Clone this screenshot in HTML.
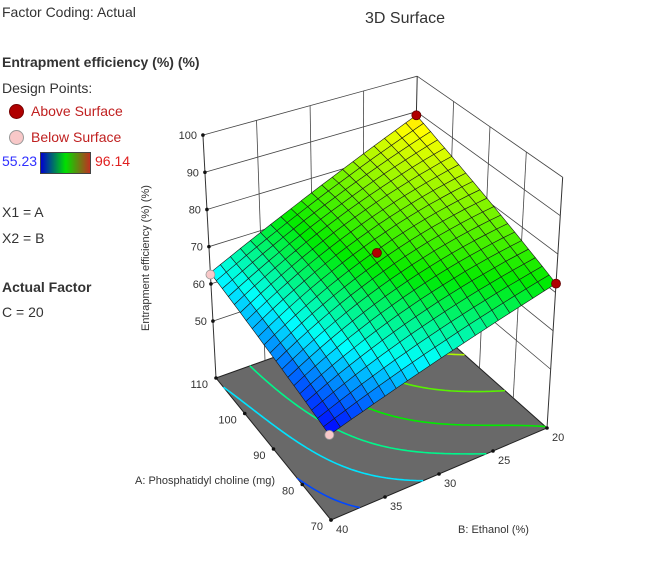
<!DOCTYPE html>
<html><head><meta charset="utf-8"><style>
body{margin:0;background:#fff;width:670px;height:570px;overflow:hidden;font-family:"Liberation Sans","DejaVu Sans",sans-serif;color:#333}
.t{position:absolute;white-space:nowrap}
</style></head><body>
<div class="t" style="left:2px;top:4px;font-size:14px">Factor Coding: Actual</div>
<div class="t" style="left:2px;top:54px;font-size:14px;font-weight:bold">Entrapment efficiency (%) (%)</div>
<div class="t" style="left:2px;top:80px;font-size:14px">Design Points:</div>
<div style="position:absolute;left:9px;top:104px;width:13px;height:13px;border-radius:50%;background:#b00000;border:1px solid #700"></div>
<div class="t" style="left:31px;top:103px;font-size:14px;color:#c02020">Above Surface</div>
<div style="position:absolute;left:9px;top:130px;width:13px;height:13px;border-radius:50%;background:#f8c8c8;border:1px solid #999"></div>
<div class="t" style="left:31px;top:129px;font-size:14px;color:#c02020">Below Surface</div>
<div class="t" style="left:2px;top:153px;font-size:14px;color:#3030ff">55.23</div>
<div style="position:absolute;left:40px;top:152px;width:49px;height:20px;border:1px solid #444;background:linear-gradient(to right,#0000d0,#00e000,#c03020)"></div>
<div class="t" style="left:95px;top:153px;font-size:14px;color:#e02020">96.14</div>
<div class="t" style="left:2px;top:204px;font-size:14px">X1 = A</div>
<div class="t" style="left:2px;top:230px;font-size:14px">X2 = B</div>
<div class="t" style="left:2px;top:279px;font-size:14px;font-weight:bold">Actual Factor</div>
<div class="t" style="left:2px;top:304px;font-size:14px">C = 20</div>
<div class="t" style="left:365px;top:10px;font-size:16px">3D Surface</div>
<svg id="c" width="670" height="570" style="position:absolute;left:0;top:0"></svg>
<script>
const zTicks=[50,60,70,80,90,100];
const aTicks=[70,80,90,100,110];
const bTicks=[20,25,30,35,40];
// surface corner values: [A,B,z]
const cornerA=[70,110,70,110];
const cornerB=[40,40,20,20];
const cornerZ=[55.2,63,72.3,89];
const bump=3;
const designA=[110,90,70,110,70];
const designB=[20,30,20,40,40];
const designZ=[89,75.5,72.3,62.5,55.2];
const designAbove=[1,1,1,0,0];
const contourLevels=[57.5,62.5,67.5,72.5,77.5,82.5];
const zFloor=34.7, zMin=55.23, zMax=96.14;
const svg=document.getElementById('c');const NS='http://www.w3.org/2000/svg';
const F=[331,520],L=[216,378],R=[547,428],K=[412,308];
const vF=[-0.08,-4.15],vL=[-0.2,-3.72],vR=[0.24,-3.84],vK=[0.08,-3.55];
function st(A,B){return [(A-70)/40,(40-B)/20];}
function bl(p,q,r,k,s,t){return [p[0]*(1-s)*(1-t)+q[0]*s*(1-t)+r[0]*(1-s)*t+k[0]*s*t,p[1]*(1-s)*(1-t)+q[1]*s*(1-t)+r[1]*(1-s)*t+k[1]*s*t];}
function P(A,B,z){const [s,t]=st(A,B);const f=bl(F,L,R,K,s,t),v=bl(vF,vL,vR,vK,s,t);const d=z-zFloor;return [f[0]+v[0]*d,f[1]+v[1]*d];}
function surf(A,B){const [s,t]=st(A,B);return cornerZ[0]*(1-s)*(1-t)+cornerZ[1]*s*(1-t)+cornerZ[2]*(1-s)*t+cornerZ[3]*s*t+bump*16*s*(1-s)*t*(1-t);}
function cmap(z){let x=Math.max(0,Math.min(1,(z-zMin)/(zMax-zMin)));const S=[[0,0,255],[0,255,255],[0,235,0],[255,255,0],[255,60,0]];const X=[0,0.2,0.42,0.78,1.05];let i=0;while(i<3&&x>X[i+1])i++;const f=Math.min(1,(x-X[i])/(X[i+1]-X[i]));const c=S[i].map((v,j)=>Math.round(v+(S[i+1][j]-v)*f));return `rgb(${c})`;}
function el(tag,at,name){const e=document.createElementNS(NS,tag);for(const k in at)e.setAttribute(k,at[k]);svg.appendChild(e);return e;}
function line(p,q,col,w,name){return el('line',{x1:p[0],y1:p[1],x2:q[0],y2:q[1],stroke:col,'stroke-width':w},name);}
function txt(x,y,s,name,anchor,size){const e=el('text',{x:x,y:y,'font-size':size||11,fill:'#333','text-anchor':anchor||'middle','font-family':'Liberation Sans, DejaVu Sans, sans-serif'},name);e.textContent=s;return e;}
// floor
const fp=[P(70,40,zFloor),P(110,40,zFloor),P(110,20,zFloor),P(70,20,zFloor)];
el('polygon',{points:fp.map(p=>p.join(',')).join(' '),fill:'#696969',stroke:'#222','stroke-width':1},'floor');
// contours (marching squares)
const N=60;
for(const lv of contourLevels){const col=cmap(lv);let d='';
for(let i=0;i<N;i++)for(let j=0;j<N;j++){const A0=70+40*i/N,A1=70+40*(i+1)/N,B0=20+20*j/N,B1=20+20*(j+1)/N;
const c=[[A0,B0],[A1,B0],[A1,B1],[A0,B1]];const v=c.map(p=>surf(p[0],p[1]));const pts=[];
for(let e=0;e<4;e++){const a=v[e],b=v[(e+1)%4];if((a-lv)*(b-lv)<0){const f=(lv-a)/(b-a);const p=c[e],q=c[(e+1)%4];pts.push(P(p[0]+(q[0]-p[0])*f,p[1]+(q[1]-p[1])*f,zFloor));}}
if(pts.length>=2)d+=`M${pts[0]}L${pts[1]}`;}
el('path',{d:d,stroke:col,'stroke-width':1.6,fill:'none'},'contour-'+lv);}
// walls
line(P(110,40,zFloor),P(110,40,100),'#333',1,'z-axis-line');
line(P(110,20,zFloor),P(110,20,100),'#333',1,'back-edge');
line(P(70,20,zFloor),P(70,20,100),'#333',1,'right-edge');
for(const z of zTicks){line(P(110,40,z),P(110,20,z),'#444',0.8,'left-wall-grid');line(P(110,20,z),P(70,20,z),'#444',0.8,'right-wall-grid');
const p=P(110,40,z);el('circle',{cx:p[0],cy:p[1],r:1.8,fill:'#111'},'z-tick');txt(p[0]-6,p[1]+4,String(z),'z-tick-label','end');}
for(const b of bTicks.slice(1,4))line(P(110,b,zFloor),P(110,b,100),'#444',0.8,'left-wall-vgrid');
for(const a of aTicks.slice(1,4))line(P(a,20,zFloor),P(a,20,100),'#444',0.8,'right-wall-vgrid');
// surface
const M=20,quads=[];
for(let i=0;i<M;i++)for(let j=0;j<M;j++){const A0=70+40*i/M,A1=70+40*(i+1)/M,B0=40-20*j/M,B1=40-20*(j+1)/M;
const c=[[A0,B0],[A1,B0],[A1,B1],[A0,B1]];const zs=c.map(p=>surf(p[0],p[1]));const zm=zs.reduce((a,b)=>a+b)/4;
quads.push({depth:(i+j),pts:c.map((p,k)=>P(p[0],p[1],zs[k])),z:zm});}
quads.sort((a,b)=>b.depth-a.depth);
for(const q of quads)el('polygon',{points:q.pts.map(p=>p.map(v=>v.toFixed(1)).join(',')).join(' '),fill:cmap(q.z),stroke:'#1a1a1a','stroke-width':0.6,'stroke-linejoin':'round'},'surface-cell');
// design points
for(let i=0;i<designA.length;i++){const p=P(designA[i],designB[i],designZ[i]);
el('circle',{cx:p[0],cy:p[1],r:4.5,fill:designAbove[i]?'#b00000':'#f8c8c8',stroke:designAbove[i]?'#600':'#999','stroke-width':0.8},'design-point');}
// axis ticks
for(const a of aTicks){const p=P(a,40,zFloor);el('circle',{cx:p[0],cy:p[1],r:1.8,fill:'#111'},'a-tick');txt(p[0]-8,p[1]+10,String(a),'a-tick-label','end');}
for(const b of bTicks){const p=P(70,b,zFloor);el('circle',{cx:p[0],cy:p[1],r:1.8,fill:'#111'},'b-tick');txt(p[0]+5,p[1]+13,String(b),'b-tick-label','start');}
txt(135,484,'A: Phosphatidyl choline (mg)','a-axis-title','start',11);
txt(458,533,'B: Ethanol (%)','b-axis-title','start',11);
const zt=txt(0,0,'Entrapment efficiency (%) (%)','z-axis-title','middle',11);zt.setAttribute('transform','translate(149,258) rotate(-90)');
</script>
</body></html>
